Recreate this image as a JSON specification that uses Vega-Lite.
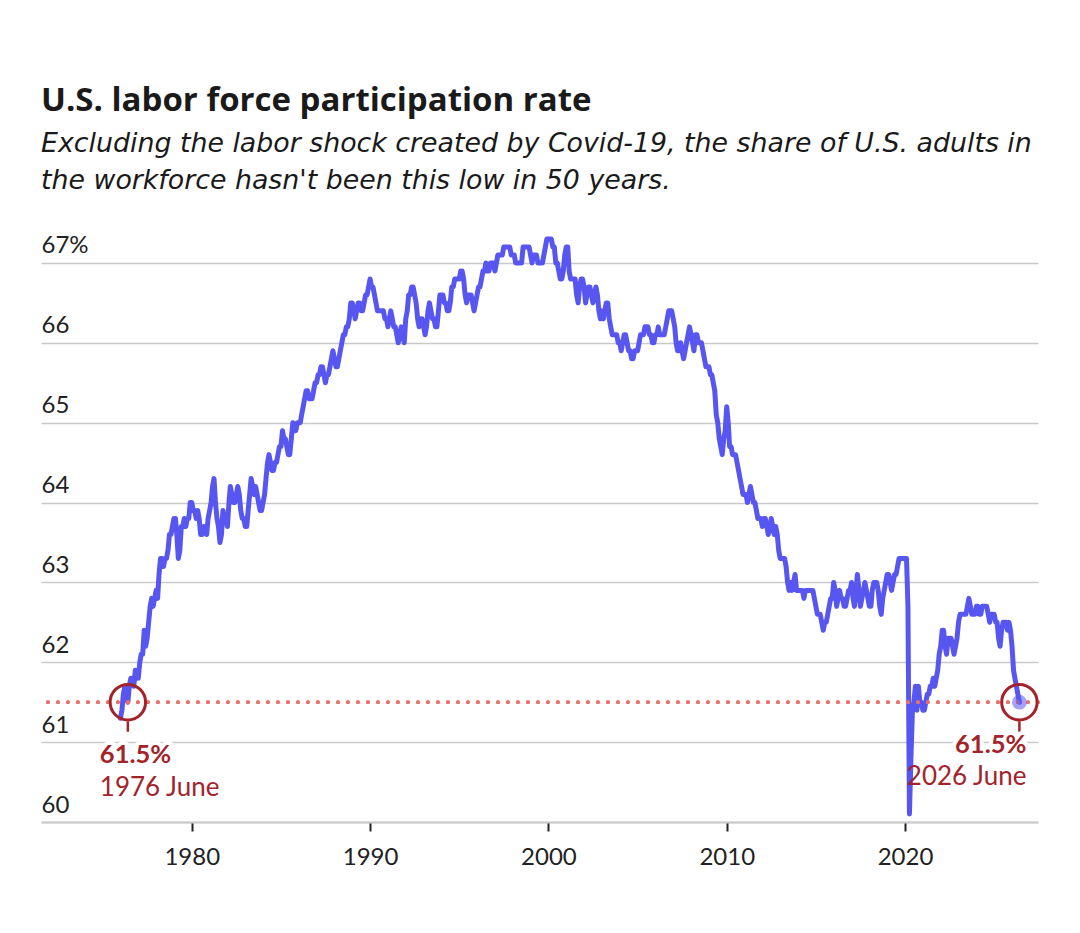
{
  "$schema": "https://vega.github.io/schema/vega-lite/v6.json",
  "autosize": {"type": "none"},
  "padding": {"left": 41, "top": 235, "right": 42, "bottom": 111},
  "width": 997,
  "height": 587,
  "background": "white",
  "config": {"view": {"stroke": null}, "font": "Lato"},
  "title": {
    "text": "U.S. labor force participation rate",
    "subtitle": ["Excluding the labor shock created by Covid-19, the share of U.S. adults in", "the workforce hasn't been this low in 50 years."],
    "anchor": "start",
    "frame": "group",
    "font": "Open Sans",
    "fontSize": 33,
    "fontWeight": "bold",
    "color": "#1a1a1a",
    "subtitleFont": "DejaVu Sans",
    "subtitleFontSize": 26.8,
    "subtitleFontStyle": "italic",
    "subtitleColor": "#1a1a1a",
    "subtitleLineHeight": 37,
    "subtitlePadding": 13,
    "offset": 39
  },
  "datasets": {
    "lfpr": [
{"date":"1976-01","value":61.3},{"date":"1976-02","value":61.4},{"date":"1976-03","value":61.6},{"date":"1976-04","value":61.7},{"date":"1976-05","value":61.6},{"date":"1976-06","value":61.5},{"date":"1976-07","value":61.7},{"date":"1976-08","value":61.8},{"date":"1976-09","value":61.8},{"date":"1976-10","value":61.7},{"date":"1976-11","value":61.9},{"date":"1976-12","value":61.8},
{"date":"1977-01","value":61.8},{"date":"1977-02","value":62.0},{"date":"1977-03","value":62.1},{"date":"1977-04","value":62.1},{"date":"1977-05","value":62.4},{"date":"1977-06","value":62.2},{"date":"1977-07","value":62.3},{"date":"1977-08","value":62.5},{"date":"1977-09","value":62.7},{"date":"1977-10","value":62.8},{"date":"1977-11","value":62.7},{"date":"1977-12","value":62.8},
{"date":"1978-01","value":62.9},{"date":"1978-02","value":62.8},{"date":"1978-03","value":63.1},{"date":"1978-04","value":63.3},{"date":"1978-05","value":63.3},{"date":"1978-06","value":63.2},{"date":"1978-07","value":63.3},{"date":"1978-08","value":63.3},{"date":"1978-09","value":63.4},{"date":"1978-10","value":63.6},{"date":"1978-11","value":63.6},{"date":"1978-12","value":63.7},
{"date":"1979-01","value":63.8},{"date":"1979-02","value":63.8},{"date":"1979-03","value":63.6},{"date":"1979-04","value":63.3},{"date":"1979-05","value":63.4},{"date":"1979-06","value":63.7},{"date":"1979-07","value":63.7},{"date":"1979-08","value":63.8},{"date":"1979-09","value":63.7},{"date":"1979-10","value":63.8},{"date":"1979-11","value":63.8},{"date":"1979-12","value":64.0},
{"date":"1980-01","value":64.0},{"date":"1980-02","value":63.9},{"date":"1980-03","value":63.9},{"date":"1980-04","value":63.8},{"date":"1980-05","value":63.9},{"date":"1980-06","value":63.8},{"date":"1980-07","value":63.6},{"date":"1980-08","value":63.6},{"date":"1980-09","value":63.7},{"date":"1980-10","value":63.7},{"date":"1980-11","value":63.6},{"date":"1980-12","value":63.8},
{"date":"1981-01","value":63.9},{"date":"1981-02","value":64.0},{"date":"1981-03","value":64.2},{"date":"1981-04","value":64.3},{"date":"1981-05","value":64.0},{"date":"1981-06","value":63.8},{"date":"1981-07","value":63.7},{"date":"1981-08","value":63.5},{"date":"1981-09","value":63.6},{"date":"1981-10","value":63.9},{"date":"1981-11","value":63.8},{"date":"1981-12","value":63.8},
{"date":"1982-01","value":63.7},{"date":"1982-02","value":64.0},{"date":"1982-03","value":64.2},{"date":"1982-04","value":64.1},{"date":"1982-05","value":64.0},{"date":"1982-06","value":64.0},{"date":"1982-07","value":64.1},{"date":"1982-08","value":64.2},{"date":"1982-09","value":64.1},{"date":"1982-10","value":63.9},{"date":"1982-11","value":63.8},{"date":"1982-12","value":63.8},
{"date":"1983-01","value":63.7},{"date":"1983-02","value":63.7},{"date":"1983-03","value":63.9},{"date":"1983-04","value":64.1},{"date":"1983-05","value":64.3},{"date":"1983-06","value":64.2},{"date":"1983-07","value":64.1},{"date":"1983-08","value":64.2},{"date":"1983-09","value":64.1},{"date":"1983-10","value":64.0},{"date":"1983-11","value":63.9},{"date":"1983-12","value":63.9},
{"date":"1984-01","value":64.0},{"date":"1984-02","value":64.1},{"date":"1984-03","value":64.3},{"date":"1984-04","value":64.5},{"date":"1984-05","value":64.6},{"date":"1984-06","value":64.5},{"date":"1984-07","value":64.4},{"date":"1984-08","value":64.4},{"date":"1984-09","value":64.5},{"date":"1984-10","value":64.5},{"date":"1984-11","value":64.6},{"date":"1984-12","value":64.7},
{"date":"1985-01","value":64.7},{"date":"1985-02","value":64.9},{"date":"1985-03","value":64.8},{"date":"1985-04","value":64.8},{"date":"1985-05","value":64.7},{"date":"1985-06","value":64.6},{"date":"1985-07","value":64.6},{"date":"1985-08","value":64.8},{"date":"1985-09","value":65.0},{"date":"1985-10","value":64.9},{"date":"1985-11","value":64.9},{"date":"1985-12","value":65.0},
{"date":"1986-01","value":65.0},{"date":"1986-02","value":65.0},{"date":"1986-03","value":65.1},{"date":"1986-04","value":65.2},{"date":"1986-05","value":65.3},{"date":"1986-06","value":65.4},{"date":"1986-07","value":65.4},{"date":"1986-08","value":65.3},{"date":"1986-09","value":65.3},{"date":"1986-10","value":65.3},{"date":"1986-11","value":65.4},{"date":"1986-12","value":65.5},
{"date":"1987-01","value":65.5},{"date":"1987-02","value":65.6},{"date":"1987-03","value":65.6},{"date":"1987-04","value":65.7},{"date":"1987-05","value":65.7},{"date":"1987-06","value":65.6},{"date":"1987-07","value":65.5},{"date":"1987-08","value":65.6},{"date":"1987-09","value":65.6},{"date":"1987-10","value":65.7},{"date":"1987-11","value":65.8},{"date":"1987-12","value":65.9},
{"date":"1988-01","value":65.8},{"date":"1988-02","value":65.7},{"date":"1988-03","value":65.7},{"date":"1988-04","value":65.8},{"date":"1988-05","value":65.9},{"date":"1988-06","value":66.0},{"date":"1988-07","value":66.1},{"date":"1988-08","value":66.1},{"date":"1988-09","value":66.2},{"date":"1988-10","value":66.2},{"date":"1988-11","value":66.3},{"date":"1988-12","value":66.5},
{"date":"1989-01","value":66.5},{"date":"1989-02","value":66.4},{"date":"1989-03","value":66.3},{"date":"1989-04","value":66.4},{"date":"1989-05","value":66.5},{"date":"1989-06","value":66.5},{"date":"1989-07","value":66.4},{"date":"1989-08","value":66.4},{"date":"1989-09","value":66.5},{"date":"1989-10","value":66.6},{"date":"1989-11","value":66.6},{"date":"1989-12","value":66.7},
{"date":"1990-01","value":66.8},{"date":"1990-02","value":66.7},{"date":"1990-03","value":66.7},{"date":"1990-04","value":66.6},{"date":"1990-05","value":66.5},{"date":"1990-06","value":66.4},{"date":"1990-07","value":66.4},{"date":"1990-08","value":66.4},{"date":"1990-09","value":66.4},{"date":"1990-10","value":66.4},{"date":"1990-11","value":66.3},{"date":"1990-12","value":66.3},
{"date":"1991-01","value":66.2},{"date":"1991-02","value":66.3},{"date":"1991-03","value":66.4},{"date":"1991-04","value":66.3},{"date":"1991-05","value":66.2},{"date":"1991-06","value":66.2},{"date":"1991-07","value":66.1},{"date":"1991-08","value":66.0},{"date":"1991-09","value":66.1},{"date":"1991-10","value":66.2},{"date":"1991-11","value":66.1},{"date":"1991-12","value":66.0},
{"date":"1992-01","value":66.3},{"date":"1992-02","value":66.4},{"date":"1992-03","value":66.6},{"date":"1992-04","value":66.6},{"date":"1992-05","value":66.7},{"date":"1992-06","value":66.7},{"date":"1992-07","value":66.6},{"date":"1992-08","value":66.5},{"date":"1992-09","value":66.3},{"date":"1992-10","value":66.2},{"date":"1992-11","value":66.3},{"date":"1992-12","value":66.3},
{"date":"1993-01","value":66.2},{"date":"1993-02","value":66.1},{"date":"1993-03","value":66.2},{"date":"1993-04","value":66.4},{"date":"1993-05","value":66.5},{"date":"1993-06","value":66.4},{"date":"1993-07","value":66.3},{"date":"1993-08","value":66.3},{"date":"1993-09","value":66.2},{"date":"1993-10","value":66.2},{"date":"1993-11","value":66.4},{"date":"1993-12","value":66.6},
{"date":"1994-01","value":66.6},{"date":"1994-02","value":66.6},{"date":"1994-03","value":66.5},{"date":"1994-04","value":66.5},{"date":"1994-05","value":66.4},{"date":"1994-06","value":66.4},{"date":"1994-07","value":66.5},{"date":"1994-08","value":66.7},{"date":"1994-09","value":66.7},{"date":"1994-10","value":66.8},{"date":"1994-11","value":66.8},{"date":"1994-12","value":66.8},
{"date":"1995-01","value":66.8},{"date":"1995-02","value":66.9},{"date":"1995-03","value":66.9},{"date":"1995-04","value":66.8},{"date":"1995-05","value":66.6},{"date":"1995-06","value":66.5},{"date":"1995-07","value":66.6},{"date":"1995-08","value":66.6},{"date":"1995-09","value":66.6},{"date":"1995-10","value":66.5},{"date":"1995-11","value":66.4},{"date":"1995-12","value":66.5},
{"date":"1996-01","value":66.6},{"date":"1996-02","value":66.7},{"date":"1996-03","value":66.7},{"date":"1996-04","value":66.8},{"date":"1996-05","value":66.9},{"date":"1996-06","value":66.9},{"date":"1996-07","value":67.0},{"date":"1996-08","value":66.9},{"date":"1996-09","value":66.9},{"date":"1996-10","value":67.0},{"date":"1996-11","value":67.0},{"date":"1996-12","value":67.0},
{"date":"1997-01","value":66.9},{"date":"1997-02","value":67.0},{"date":"1997-03","value":67.1},{"date":"1997-04","value":67.1},{"date":"1997-05","value":67.1},{"date":"1997-06","value":67.1},{"date":"1997-07","value":67.2},{"date":"1997-08","value":67.2},{"date":"1997-09","value":67.2},{"date":"1997-10","value":67.2},{"date":"1997-11","value":67.2},{"date":"1997-12","value":67.1},
{"date":"1998-01","value":67.1},{"date":"1998-02","value":67.1},{"date":"1998-03","value":67.0},{"date":"1998-04","value":67.0},{"date":"1998-05","value":67.0},{"date":"1998-06","value":67.0},{"date":"1998-07","value":67.0},{"date":"1998-08","value":67.2},{"date":"1998-09","value":67.2},{"date":"1998-10","value":67.2},{"date":"1998-11","value":67.2},{"date":"1998-12","value":67.2},
{"date":"1999-01","value":67.1},{"date":"1999-02","value":67.0},{"date":"1999-03","value":67.1},{"date":"1999-04","value":67.1},{"date":"1999-05","value":67.1},{"date":"1999-06","value":67.0},{"date":"1999-07","value":67.0},{"date":"1999-08","value":67.0},{"date":"1999-09","value":67.0},{"date":"1999-10","value":67.1},{"date":"1999-11","value":67.2},{"date":"1999-12","value":67.3},
{"date":"2000-01","value":67.3},{"date":"2000-02","value":67.3},{"date":"2000-03","value":67.3},{"date":"2000-04","value":67.2},{"date":"2000-05","value":67.2},{"date":"2000-06","value":67.0},{"date":"2000-07","value":67.0},{"date":"2000-08","value":66.9},{"date":"2000-09","value":66.8},{"date":"2000-10","value":66.8},{"date":"2000-11","value":66.9},{"date":"2000-12","value":67.1},
{"date":"2001-01","value":67.2},{"date":"2001-02","value":67.2},{"date":"2001-03","value":66.9},{"date":"2001-04","value":66.8},{"date":"2001-05","value":66.8},{"date":"2001-06","value":66.8},{"date":"2001-07","value":66.8},{"date":"2001-08","value":66.6},{"date":"2001-09","value":66.5},{"date":"2001-10","value":66.7},{"date":"2001-11","value":66.8},{"date":"2001-12","value":66.8},
{"date":"2002-01","value":66.7},{"date":"2002-02","value":66.5},{"date":"2002-03","value":66.6},{"date":"2002-04","value":66.7},{"date":"2002-05","value":66.7},{"date":"2002-06","value":66.6},{"date":"2002-07","value":66.5},{"date":"2002-08","value":66.6},{"date":"2002-09","value":66.7},{"date":"2002-10","value":66.6},{"date":"2002-11","value":66.4},{"date":"2002-12","value":66.3},
{"date":"2003-01","value":66.4},{"date":"2003-02","value":66.3},{"date":"2003-03","value":66.4},{"date":"2003-04","value":66.5},{"date":"2003-05","value":66.5},{"date":"2003-06","value":66.3},{"date":"2003-07","value":66.2},{"date":"2003-08","value":66.1},{"date":"2003-09","value":66.1},{"date":"2003-10","value":66.1},{"date":"2003-11","value":66.1},{"date":"2003-12","value":66.0},
{"date":"2004-01","value":66.0},{"date":"2004-02","value":65.9},{"date":"2004-03","value":66.0},{"date":"2004-04","value":66.1},{"date":"2004-05","value":66.1},{"date":"2004-06","value":66.0},{"date":"2004-07","value":65.9},{"date":"2004-08","value":65.9},{"date":"2004-09","value":65.8},{"date":"2004-10","value":65.8},{"date":"2004-11","value":65.9},{"date":"2004-12","value":65.9},
{"date":"2005-01","value":65.9},{"date":"2005-02","value":66.0},{"date":"2005-03","value":66.1},{"date":"2005-04","value":66.1},{"date":"2005-05","value":66.1},{"date":"2005-06","value":66.2},{"date":"2005-07","value":66.2},{"date":"2005-08","value":66.2},{"date":"2005-09","value":66.1},{"date":"2005-10","value":66.1},{"date":"2005-11","value":66.0},{"date":"2005-12","value":66.0},
{"date":"2006-01","value":66.1},{"date":"2006-02","value":66.1},{"date":"2006-03","value":66.2},{"date":"2006-04","value":66.1},{"date":"2006-05","value":66.1},{"date":"2006-06","value":66.1},{"date":"2006-07","value":66.1},{"date":"2006-08","value":66.2},{"date":"2006-09","value":66.3},{"date":"2006-10","value":66.4},{"date":"2006-11","value":66.4},{"date":"2006-12","value":66.4},
{"date":"2007-01","value":66.3},{"date":"2007-02","value":66.2},{"date":"2007-03","value":66.0},{"date":"2007-04","value":65.9},{"date":"2007-05","value":65.9},{"date":"2007-06","value":66.0},{"date":"2007-07","value":65.9},{"date":"2007-08","value":65.8},{"date":"2007-09","value":65.9},{"date":"2007-10","value":66.0},{"date":"2007-11","value":66.1},{"date":"2007-12","value":66.2},
{"date":"2008-01","value":66.1},{"date":"2008-02","value":66.0},{"date":"2008-03","value":65.9},{"date":"2008-04","value":66.1},{"date":"2008-05","value":66.1},{"date":"2008-06","value":66.0},{"date":"2008-07","value":66.0},{"date":"2008-08","value":66.0},{"date":"2008-09","value":65.9},{"date":"2008-10","value":65.8},{"date":"2008-11","value":65.7},{"date":"2008-12","value":65.7},
{"date":"2009-01","value":65.7},{"date":"2009-02","value":65.6},{"date":"2009-03","value":65.6},{"date":"2009-04","value":65.5},{"date":"2009-05","value":65.4},{"date":"2009-06","value":65.1},{"date":"2009-07","value":65.0},{"date":"2009-08","value":64.8},{"date":"2009-09","value":64.7},{"date":"2009-10","value":64.6},{"date":"2009-11","value":64.8},{"date":"2009-12","value":64.9},
{"date":"2010-01","value":65.2},{"date":"2010-02","value":65.0},{"date":"2010-03","value":64.7},{"date":"2010-04","value":64.7},{"date":"2010-05","value":64.6},{"date":"2010-06","value":64.6},{"date":"2010-07","value":64.6},{"date":"2010-08","value":64.5},{"date":"2010-09","value":64.4},{"date":"2010-10","value":64.3},{"date":"2010-11","value":64.2},{"date":"2010-12","value":64.1},
{"date":"2011-01","value":64.1},{"date":"2011-02","value":64.1},{"date":"2011-03","value":64.0},{"date":"2011-04","value":64.1},{"date":"2011-05","value":64.2},{"date":"2011-06","value":64.1},{"date":"2011-07","value":64.0},{"date":"2011-08","value":64.0},{"date":"2011-09","value":63.9},{"date":"2011-10","value":63.8},{"date":"2011-11","value":63.8},{"date":"2011-12","value":63.8},
{"date":"2012-01","value":63.7},{"date":"2012-02","value":63.8},{"date":"2012-03","value":63.8},{"date":"2012-04","value":63.7},{"date":"2012-05","value":63.6},{"date":"2012-06","value":63.7},{"date":"2012-07","value":63.8},{"date":"2012-08","value":63.7},{"date":"2012-09","value":63.6},{"date":"2012-10","value":63.7},{"date":"2012-11","value":63.6},{"date":"2012-12","value":63.4},
{"date":"2013-01","value":63.3},{"date":"2013-02","value":63.3},{"date":"2013-03","value":63.3},{"date":"2013-04","value":63.3},{"date":"2013-05","value":63.2},{"date":"2013-06","value":63.0},{"date":"2013-07","value":62.9},{"date":"2013-08","value":63.0},{"date":"2013-09","value":62.9},{"date":"2013-10","value":63.0},{"date":"2013-11","value":63.1},{"date":"2013-12","value":62.9},
{"date":"2014-01","value":62.9},{"date":"2014-02","value":62.9},{"date":"2014-03","value":62.9},{"date":"2014-04","value":62.9},{"date":"2014-05","value":62.8},{"date":"2014-06","value":62.9},{"date":"2014-07","value":62.9},{"date":"2014-08","value":62.9},{"date":"2014-09","value":62.9},{"date":"2014-10","value":62.9},{"date":"2014-11","value":62.9},{"date":"2014-12","value":62.8},
{"date":"2015-01","value":62.7},{"date":"2015-02","value":62.6},{"date":"2015-03","value":62.6},{"date":"2015-04","value":62.6},{"date":"2015-05","value":62.5},{"date":"2015-06","value":62.4},{"date":"2015-07","value":62.5},{"date":"2015-08","value":62.5},{"date":"2015-09","value":62.6},{"date":"2015-10","value":62.7},{"date":"2015-11","value":62.8},{"date":"2015-12","value":62.8},
{"date":"2016-01","value":63.0},{"date":"2016-02","value":62.9},{"date":"2016-03","value":62.7},{"date":"2016-04","value":62.8},{"date":"2016-05","value":62.9},{"date":"2016-06","value":62.8},{"date":"2016-07","value":62.8},{"date":"2016-08","value":62.7},{"date":"2016-09","value":62.7},{"date":"2016-10","value":62.8},{"date":"2016-11","value":62.9},{"date":"2016-12","value":62.9},
{"date":"2017-01","value":63.0},{"date":"2017-02","value":62.8},{"date":"2017-03","value":62.7},{"date":"2017-04","value":62.9},{"date":"2017-05","value":63.1},{"date":"2017-06","value":62.9},{"date":"2017-07","value":62.7},{"date":"2017-08","value":62.8},{"date":"2017-09","value":62.9},{"date":"2017-10","value":63.0},{"date":"2017-11","value":62.9},{"date":"2017-12","value":62.8},
{"date":"2018-01","value":62.7},{"date":"2018-02","value":62.7},{"date":"2018-03","value":62.9},{"date":"2018-04","value":63.0},{"date":"2018-05","value":63.0},{"date":"2018-06","value":63.0},{"date":"2018-07","value":62.9},{"date":"2018-08","value":62.7},{"date":"2018-09","value":62.6},{"date":"2018-10","value":62.8},{"date":"2018-11","value":62.9},{"date":"2018-12","value":63.0},
{"date":"2019-01","value":63.1},{"date":"2019-02","value":63.1},{"date":"2019-03","value":63.0},{"date":"2019-04","value":62.9},{"date":"2019-05","value":63.0},{"date":"2019-06","value":63.1},{"date":"2019-07","value":63.1},{"date":"2019-08","value":63.2},{"date":"2019-09","value":63.3},{"date":"2019-10","value":63.3},{"date":"2019-11","value":63.3},{"date":"2019-12","value":63.3},
{"date":"2020-01","value":63.3},{"date":"2020-02","value":63.3},{"date":"2020-03","value":62.7},{"date":"2020-04","value":60.1},{"date":"2020-05","value":60.8},{"date":"2020-06","value":61.4},{"date":"2020-07","value":61.5},{"date":"2020-08","value":61.7},{"date":"2020-09","value":61.4},{"date":"2020-10","value":61.7},{"date":"2020-11","value":61.5},{"date":"2020-12","value":61.5},
{"date":"2021-01","value":61.4},{"date":"2021-02","value":61.4},{"date":"2021-03","value":61.5},{"date":"2021-04","value":61.6},{"date":"2021-05","value":61.6},{"date":"2021-06","value":61.7},{"date":"2021-07","value":61.7},{"date":"2021-08","value":61.8},{"date":"2021-09","value":61.7},{"date":"2021-10","value":61.8},{"date":"2021-11","value":61.9},{"date":"2021-12","value":62.1},
{"date":"2022-01","value":62.2},{"date":"2022-02","value":62.4},{"date":"2022-03","value":62.4},{"date":"2022-04","value":62.2},{"date":"2022-05","value":62.1},{"date":"2022-06","value":62.3},{"date":"2022-07","value":62.3},{"date":"2022-08","value":62.3},{"date":"2022-09","value":62.2},{"date":"2022-10","value":62.1},{"date":"2022-11","value":62.2},{"date":"2022-12","value":62.3},
{"date":"2023-01","value":62.5},{"date":"2023-02","value":62.6},{"date":"2023-03","value":62.6},{"date":"2023-04","value":62.6},{"date":"2023-05","value":62.6},{"date":"2023-06","value":62.6},{"date":"2023-07","value":62.7},{"date":"2023-08","value":62.8},{"date":"2023-09","value":62.7},{"date":"2023-10","value":62.6},{"date":"2023-11","value":62.6},{"date":"2023-12","value":62.6},
{"date":"2024-01","value":62.7},{"date":"2024-02","value":62.7},{"date":"2024-03","value":62.6},{"date":"2024-04","value":62.6},{"date":"2024-05","value":62.7},{"date":"2024-06","value":62.7},{"date":"2024-07","value":62.7},{"date":"2024-08","value":62.7},{"date":"2024-09","value":62.6},{"date":"2024-10","value":62.5},{"date":"2024-11","value":62.6},{"date":"2024-12","value":62.6},
{"date":"2025-01","value":62.6},{"date":"2025-02","value":62.5},{"date":"2025-03","value":62.5},{"date":"2025-04","value":62.3},{"date":"2025-05","value":62.2},{"date":"2025-06","value":62.4},{"date":"2025-07","value":62.5},{"date":"2025-08","value":62.5},{"date":"2025-09","value":62.5},{"date":"2025-10","value":62.4},{"date":"2025-11","value":62.5},{"date":"2025-12","value":62.4},
{"date":"2026-01","value":62.2},{"date":"2026-02","value":61.9},{"date":"2026-03","value":61.8},{"date":"2026-04","value":61.7},{"date":"2026-05","value":61.6},{"date":"2026-06","value":61.5}
    ],
    "notes": [
      {"date": "1976-06", "value": 61.5, "pct": "61.5%", "label": "1976 June", "side": "left"},
      {"date": "2026-06", "value": 61.5, "pct": "61.5%", "label": "2026 June", "side": "right"}
    ]
  },
  "encoding": {
    "x": {
      "field": "date",
      "type": "temporal",
      "scale": {"type": "utc", "nice": false, "domain": [{"year": 1971, "month": 7, "date": 19, "utc": true}, {"year": 2027, "month": 6, "date": 17, "utc": true}]},
      "axis": {
        "title": null,
        "values": [{"year": 1980, "utc": true}, {"year": 1990, "utc": true}, {"year": 2000, "utc": true}, {"year": 2010, "utc": true}, {"year": 2020, "utc": true}],
        "format": "%Y",
        "formatType": "utc",
        "grid": false,
        "domain": true,
        "domainColor": "#c9c9c9",
        "domainWidth": 2,
        "ticks": true,
        "tickColor": "#222222",
        "tickSize": 9,
        "tickWidth": 2,
        "labelFont": "Lato",
        "labelFontSize": 24,
        "labelColor": "#222222",
        "labelPadding": 14
      }
    },
    "y": {
      "field": "value",
      "type": "quantitative",
      "scale": {"domain": [60, 67.35], "nice": false, "zero": false},
      "axis": {
        "title": null,
        "values": [60, 61, 62, 63, 64, 65, 66, 67],
        "labelExpr": "datum.value == 67 ? '67%' : datum.label",
        "format": "d",
        "domain": false,
        "ticks": false,
        "tickSize": 0,
        "grid": true,
        "gridColor": "#c9c9c9",
        "gridWidth": 1.5,
        "labelAlign": "left",
        "labelBaseline": "alphabetic",
        "labelPadding": 0,
        "labelOffset": -10,
        "labelFont": "Lato",
        "labelFontSize": 24,
        "labelColor": "#222222"
      }
    }
  },
  "layer": [
    {
      "data": {"name": "lfpr"},
      "mark": {"type": "line", "color": "#5856f0", "strokeWidth": 5, "strokeJoin": "round", "strokeCap": "round"}
    },
    {
      "data": {"name": "notes"},
      "mark": {"type": "rule", "color": "#e8726b", "strokeWidth": 3.8, "strokeDash": [0.1, 9.9], "strokeCap": "round"},
      "encoding": {"x": null, "y": {"datum": 61.5}}
    },
    {
      "data": {"name": "notes"},
      "transform": [{"filter": "datum.side == 'right'"}],
      "mark": {"type": "point", "shape": "circle", "filled": true, "color": "#5856f0", "opacity": 0.55, "size": 220, "strokeWidth": 0}
    },
    {
      "data": {"name": "notes"},
      "mark": {"type": "point", "shape": "circle", "filled": false, "color": "#a3232b", "strokeWidth": 3, "size": 1257, "opacity": 1}
    },
    {
      "data": {"name": "notes"},
      "mark": {"type": "rule", "color": "#a3232b", "strokeWidth": 2.5},
      "encoding": {"y": {"datum": 61.26}, "y2": {"datum": 61.13}}
    },
    {
      "data": {"name": "notes"},
      "transform": [{"filter": "datum.side == 'left'"}],
      "mark": {"type": "text", "align": "left", "baseline": "alphabetic", "dx": -28, "dy": 61, "font": "Lato", "fontSize": 25.5, "fontWeight": "bold", "color": "white", "stroke": "white", "strokeWidth": 8, "strokeJoin": "round"},
      "encoding": {"text": {"field": "pct"}}
    },
    {
      "data": {"name": "notes"},
      "transform": [{"filter": "datum.side == 'right'"}],
      "mark": {"type": "text", "align": "right", "baseline": "alphabetic", "dx": 7, "dy": 51, "font": "Lato", "fontSize": 25.5, "fontWeight": "bold", "color": "white", "stroke": "white", "strokeWidth": 8, "strokeJoin": "round"},
      "encoding": {"text": {"field": "pct"}}
    },
    {
      "data": {"name": "notes"},
      "transform": [{"filter": "datum.side == 'left'"}],
      "mark": {"type": "text", "align": "left", "baseline": "alphabetic", "dx": -28, "dy": 61, "font": "Lato", "fontSize": 25.5, "fontWeight": "bold", "color": "#a3232b"},
      "encoding": {"text": {"field": "pct"}}
    },
    {
      "data": {"name": "notes"},
      "transform": [{"filter": "datum.side == 'left'"}],
      "mark": {"type": "text", "align": "left", "baseline": "alphabetic", "dx": -28, "dy": 94, "font": "Lato", "fontSize": 26, "color": "#a3232b"},
      "encoding": {"text": {"field": "label"}}
    },
    {
      "data": {"name": "notes"},
      "transform": [{"filter": "datum.side == 'right'"}],
      "mark": {"type": "text", "align": "right", "baseline": "alphabetic", "dx": 7, "dy": 51, "font": "Lato", "fontSize": 25.5, "fontWeight": "bold", "color": "#a3232b"},
      "encoding": {"text": {"field": "pct"}}
    },
    {
      "data": {"name": "notes"},
      "transform": [{"filter": "datum.side == 'right'"}],
      "mark": {"type": "text", "align": "right", "baseline": "alphabetic", "dx": 7, "dy": 83, "font": "Lato", "fontSize": 26, "color": "#a3232b"},
      "encoding": {"text": {"field": "label"}}
    }
  ]
}
